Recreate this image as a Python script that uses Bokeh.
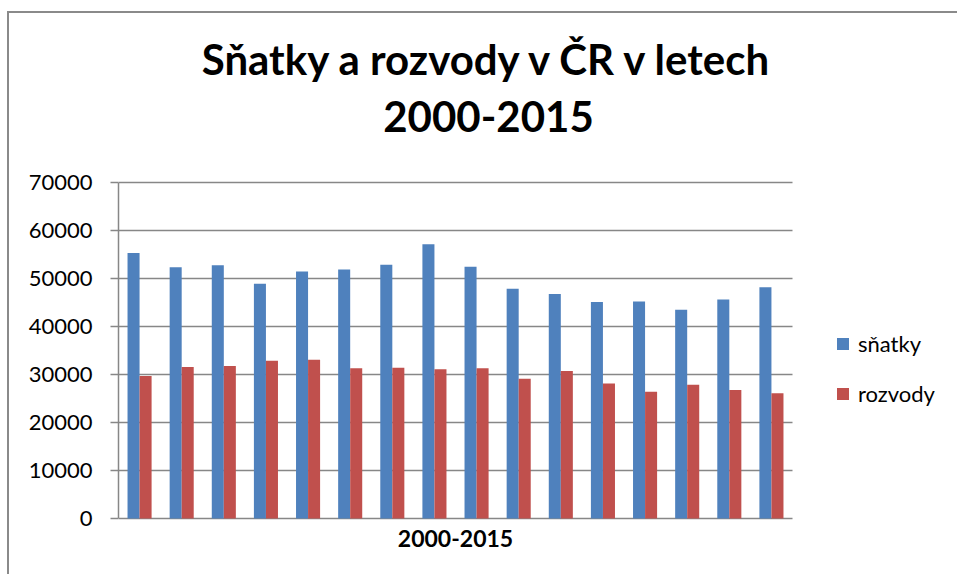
from bokeh.plotting import figure
from bokeh.models import (Range1d, FixedTicker, NumeralTickFormatter, ColumnDataSource,
                          Legend, LegendItem, Label)
from bokeh.transform import dodge
from bokeh.embed import file_html
from bokeh.resources import INLINE

# ---- data ----
years = [2000, 2001, 2002, 2003, 2004, 2005, 2006, 2007,
         2008, 2009, 2010, 2011, 2012, 2013, 2014, 2015]
snatky = [55300, 52350, 52750, 48900, 51450, 51850, 52850, 57150,
          52450, 47850, 46750, 45100, 45200, 43500, 45600, 48200]
rozvody = [29700, 31550, 31750, 32850, 33050, 31300, 31400, 31100,
           31300, 29100, 30750, 28100, 26400, 27850, 26750, 26100]
y_ticks = [0, 10000, 20000, 30000, 40000, 50000, 60000, 70000]
series_names = ["sňatky", "rozvody"]
title_lines = ["Sňatky a rozvody v ČR v letech", "2000-2015"]
x_label = "2000-2015"

BLUE = "#4F81BD"
RED = "#C0504D"
GRID = "#878787"
FONT = "Lato"

src = ColumnDataSource(dict(year=years, snatky=snatky, rozvody=rozvody))

# layout (pixels)
W, H = 960, 563
BORDER_L = 109
PLOT_W, PLOT_H = 674, 336      # bar/grid area inside the frame
PLOT_B = H - 505               # gap between zero line and bottom of frame
FRAME_W, FRAME_H = W - BORDER_L, H

x0, x1 = years[0] - 0.5, years[-1] + 0.5
y0, y1 = y_ticks[0], y_ticks[-1]
x_end = x0 + (x1 - x0) * FRAME_W / PLOT_W
y_start = y0 - (y1 - y0) * PLOT_B / PLOT_H
y_end = y_start + (y1 - y0) * FRAME_H / PLOT_H

p = figure(width=W, height=H, output_backend="svg", toolbar_location=None,
           x_range=Range1d(x0, x_end), y_range=Range1d(y_start, y_end),
           x_axis_location=None,
           min_border_left=BORDER_L, min_border_top=0,
           min_border_right=0, min_border_bottom=0,
           background_fill_color="white", border_fill_color="white")
p.styles = {"margin-left": "7px", "margin-top": "11px",
            "border-top": "2px solid #8a8a8a", "border-left": "2px solid #8a8a8a",
            "border-right": "0px none", "border-bottom": "0px none"}
p.outline_line_color = None
p.title.visible = False

bw = 0.2857
rb = p.vbar(x=dodge("year", -bw / 2, range=p.x_range), top="snatky", bottom=y0,
            width=bw, source=src, fill_color=BLUE, line_color=None)
rr = p.vbar(x=dodge("year", bw / 2, range=p.x_range), top="rozvody", bottom=y0,
            width=bw, source=src, fill_color=RED, line_color=None)

p.xgrid.visible = False
p.ygrid.ticker = FixedTicker(ticks=y_ticks)
p.ygrid.grid_line_color = GRID
p.ygrid.grid_line_width = 1.5
p.ygrid.cross_bounds = (x0, x1)

ya = p.yaxis[0]
ya.bounds = (y0, y1)
ya.ticker = FixedTicker(ticks=y_ticks)
ya.formatter = NumeralTickFormatter(format="0")
ya.axis_line_color = GRID
ya.axis_line_width = 1.5
ya.major_tick_line_color = GRID
ya.major_tick_line_width = 1.5
ya.major_tick_out = 8
ya.major_tick_in = 0
ya.minor_tick_line_color = None
ya.major_label_text_font = FONT
ya.major_label_text_font_size = "22px"
ya.major_label_text_color = "black"
ya.major_label_standoff = 18

# texts (screen units, relative to frame bottom-left)
def add_text(x, y, text, size, bold=True):
    p.add_layout(Label(x=x, y=y, x_units="screen", y_units="screen", text=text,
                       text_align="center", text_baseline="alphabetic",
                       text_font=FONT, text_font_style="bold" if bold else "normal",
                       text_font_size=size, text_color="black"))

add_text(370, 460 + PLOT_B, title_lines[0], "42px")
add_text(370, 402 + PLOT_B, title_lines[1], "42px")
add_text(337, PLOT_B - 20, x_label, "23px")

legend = Legend(items=[LegendItem(label=series_names[0], renderers=[rb]),
                       LegendItem(label=series_names[1], renderers=[rr])],
                location=(717, 111 + PLOT_B), orientation="vertical")
legend.background_fill_alpha = 0
legend.border_line_color = None
legend.padding = 0
legend.margin = 0
legend.glyph_width = 15
legend.glyph_height = 15
legend.label_standoff = 8
legend.spacing = 23
legend.label_text_font = FONT
legend.label_text_font_size = "22px"
legend.label_text_color = "black"
p.add_layout(legend, "center")

open("out.html", "w").write(file_html(p, INLINE))
